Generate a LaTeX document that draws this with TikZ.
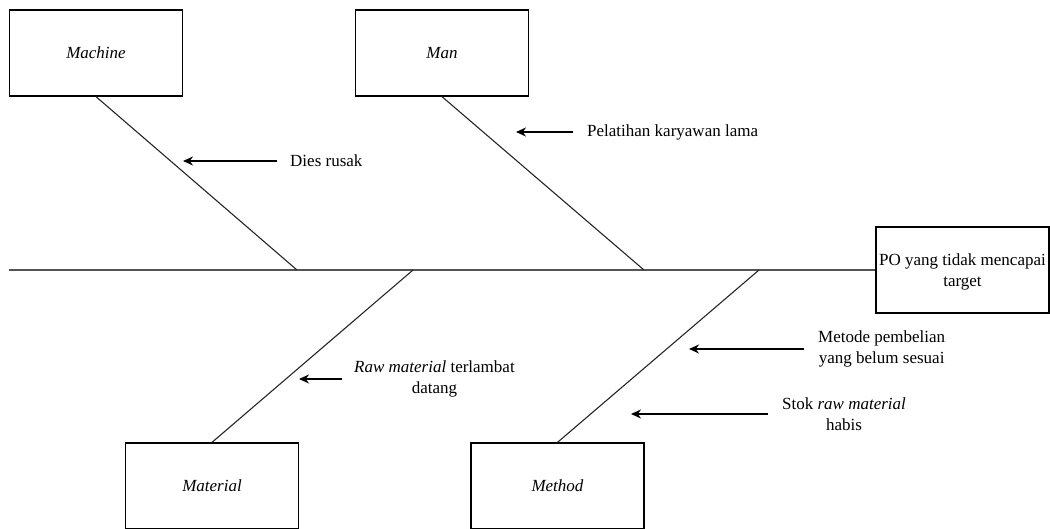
\documentclass[tikz,border=0pt]{standalone}
\usepackage{fontspec}
\setmainfont{Liberation Serif}
\usetikzlibrary{arrows.meta}
\begin{document}
\begin{tikzpicture}[x=1pt,y=-1pt,
  catbox/.style={draw=black,line width=1.3pt,minimum width=173pt,minimum height=86pt,inner sep=0pt,font=\fontsize{17}{21}\selectfont\itshape},
  bone/.style={draw=black!85,line width=1.1pt},
  spine/.style={draw=black!67,line width=2pt},
  cause/.style={draw=black,line width=1.3pt,{Stealth[length=10pt,width=9pt]}-},
  causetxt/.style={anchor=west,inner ysep=0pt,align=center,font=\fontsize{17}{21.5}\selectfont}]
\useasboundingbox (0,0) rectangle (1050,528);
\clip (0,0) rectangle (1050,528);
% category boxes
\node[catbox] (machine) at (96,53) {Machine};
\node[catbox] (man) at (442,53) {Man};
\node[catbox] (material) at (212,486) {Material};
\node[catbox] (method) at (557.5,486) {Method};
% effect box
\node[draw=black,line width=1.3pt,minimum width=173pt,minimum height=86pt,inner sep=0pt,
  label={[yshift=-2pt,inner sep=0pt,align=center,font=\fontsize{17}{20.5}\selectfont]center:PO yang tidak mencapai\\target}] (effect) at (962.5,270) {};
% spine
\coordinate (tail) at (9,270);
\draw[spine] (tail) -- (effect.west);
% bone ends on spine
\coordinate (jmachine) at (297,270);
\coordinate (jman) at (644,270);
\coordinate (jmaterial) at (413,270);
\coordinate (jmethod) at (759,270);
\draw[bone] (machine.south) -- (jmachine);
\draw[bone] (man.south) -- (jman);
\draw[bone] (material.north) -- (jmaterial);
\draw[bone] (method.north) -- (jmethod);
% cause labels
\node[causetxt,inner xsep=13pt] (dies) at (277,161) {Dies rusak};
\node[causetxt,inner xsep=14pt] (pelatihan) at (573,132) {Pelatihan karyawan lama};
\node[causetxt,inner xsep=12pt] (raw) at (342,379) {\textit{Raw material} terlambat\\datang};
\node[causetxt,inner xsep=14pt] (metode) at (804,349) {Metode pembelian\\yang belum sesuai};
\node[causetxt,inner xsep=14pt] (stok) at (768,414) {Stok \textit{raw material}\\habis};
% arrow heads
\coordinate (hdies) at (183,161);
\coordinate (hpelatihan) at (516,132);
\coordinate (hraw) at (299,379);
\coordinate (hmetode) at (689,349);
\coordinate (hstok) at (631,414);
\draw[cause] (hdies) -- (dies.west);
\draw[cause] (hpelatihan) -- (pelatihan.west);
\draw[cause] (hraw) -- (raw.west);
\draw[cause] (hmetode) -- (metode.west);
\draw[cause] (hstok) -- (stok.west);
\end{tikzpicture}
\end{document}
